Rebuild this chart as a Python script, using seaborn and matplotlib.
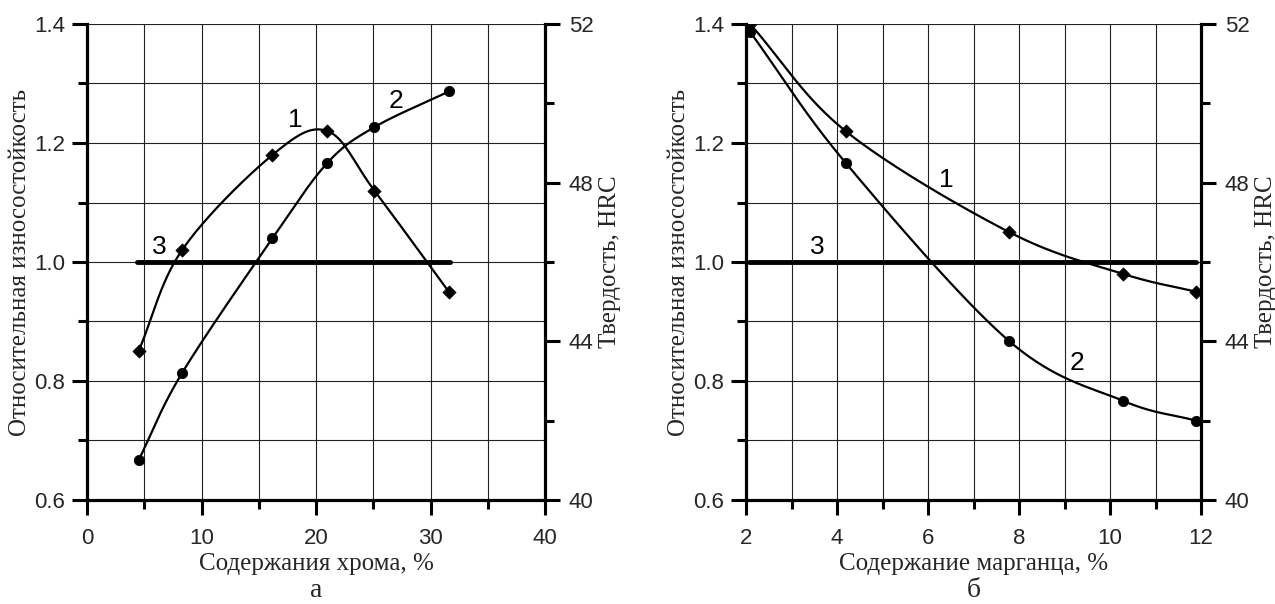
import numpy as np
import pandas as pd
import matplotlib
matplotlib.use("Agg")
import matplotlib.pyplot as plt
import seaborn as sns
from matplotlib.ticker import MultipleLocator

# ---------------- data ----------------
# panel a: chromium content
cr_x = [4.5, 8.3, 16.2, 21.0, 25.1, 31.6]
cr_wear = [0.85, 1.02, 1.18, 1.22, 1.12, 0.95]          # curve 1, relative wear resistance
cr_hrc = [41.0, 43.2, 46.6, 48.5, 49.4, 50.3]           # curve 2, hardness HRC
cr_ref_x = [4.4, 31.7]                                  # curve 3 (reference = 1.0)
cr_ref_y = [1.0, 1.0]

# panel б: manganese content
mn_x = [2.09, 4.19, 7.79, 10.29, 11.89]
mn_wear = [1.40, 1.22, 1.05, 0.98, 0.95]
mn_hrc = [51.8, 48.5, 44.0, 42.5, 42.0]
mn_ref_x = [2.07, 11.9]
mn_ref_y = [1.0, 1.0]

ylabel_left = "Относительная износостойкость"
ylabel_right = "Твердость, HRC"

SERIF = ["Liberation Serif", "DejaVu Serif"]
SANS = ["Liberation Sans Narrow", "Liberation Sans", "DejaVu Sans"]

sns.set_theme(style="white")
plt.rcParams["font.family"] = SANS


def smooth(x, y, xr, yr, n=40):
    """Catmull-Rom curve through the data points (normalised space)."""
    x = np.asarray(x, float); y = np.asarray(y, float)
    xs = (x - xr[0]) / (xr[1] - xr[0]); ys = (y - yr[0]) / (yr[1] - yr[0])
    P = np.column_stack([xs, ys])
    P = np.vstack([2 * P[0] - P[1], P, 2 * P[-1] - P[-2]])
    out = []
    for i in range(1, len(P) - 2):
        p0, p1, p2, p3 = P[i - 1], P[i], P[i + 1], P[i + 2]
        t = np.linspace(0, 1, n)[:, None]
        seg = 0.5 * ((2 * p1) + (-p0 + p2) * t + (2 * p0 - 5 * p1 + 4 * p2 - p3) * t ** 2
                     + (-p0 + 3 * p1 - 3 * p2 + p3) * t ** 3)
        out.append(seg if i == 1 else seg[1:])
    S = np.vstack(out)
    return S[:, 0] * (xr[1] - xr[0]) + xr[0], S[:, 1] * (yr[1] - yr[0]) + yr[0]


fig = plt.figure(figsize=(12.75, 6.04), dpi=100)
ax1 = fig.add_axes([87 / 1275, 1 - 500 / 604, (545 - 87) / 1275, 476 / 604])
ax2 = fig.add_axes([746 / 1275, 1 - 500 / 604, (1201 - 746) / 1275, 476 / 604])


def style_axes(ax, axr, xlim, xmaj, xmin, xlabel, sub):
    ax.set_xlim(*xlim)
    ax.set_ylim(0.6, 1.4)
    axr.set_ylim(40, 52)
    ax.xaxis.set_major_locator(MultipleLocator(xmaj))
    ax.xaxis.set_minor_locator(MultipleLocator(xmin))
    ax.yaxis.set_major_locator(MultipleLocator(0.2))
    ax.yaxis.set_minor_locator(MultipleLocator(0.1))
    axr.yaxis.set_major_locator(MultipleLocator(4))
    axr.yaxis.set_minor_locator(MultipleLocator(2))
    ax.set_yticklabels([f"{v:.1f}" for v in ax.get_yticks()])
    ax.grid(True, which="both", color="#222222", lw=0.8)
    ax.set_axisbelow(True)
    for a in (ax, axr):
        a.spines["top"].set_visible(False)
        for s in ("left", "bottom", "right"):
            a.spines[s].set_linewidth(2.3)
            a.spines[s].set_color("black")
    ax.spines["right"].set_visible(False)
    axr.spines["left"].set_visible(False)
    axr.spines["bottom"].set_visible(False)
    ax.tick_params(which="major", direction="out", length=11, width=2.2,
                   labelsize=16, color="black", left=True, bottom=True)
    ax.tick_params(axis="x", which="major", pad=9)
    ax.tick_params(axis="y", which="major", pad=5)
    ax.tick_params(which="minor", direction="out", length=6.5, width=2.2,
                   color="black", left=True, bottom=True)
    axr.tick_params(which="major", direction="out", length=11, width=2.2,
                    labelsize=16, color="black", pad=6, right=True)
    axr.tick_params(which="minor", direction="out", length=6.5, width=2.2,
                    color="black", right=True)
    ax.set_xlabel(xlabel, family=SERIF, fontsize=18, labelpad=3)
    ax.set_ylabel(ylabel_left, family=SERIF, fontsize=18, labelpad=2)
    axr.set_ylabel(ylabel_right, family=SERIF, fontsize=18, labelpad=4)
    ax.text(0.5, (500 - 597) / 476, sub, transform=ax.transAxes, ha="center",
            va="baseline", family=SERIF, fontsize=20)


def draw(ax, axr, x, wear, hrc, rx, ry, xlim):
    sx, sy = smooth(x, wear, xlim, (0.6, 1.4))
    ax.plot(sx, sy, color="black", lw=1.6, zorder=3)
    sns.scatterplot(x=x, y=wear, ax=ax, marker="D", s=45, color="black",
                    edgecolor="black", zorder=4, legend=False)
    hx, hy = smooth(x, hrc, xlim, (40, 52))
    axr.plot(hx, hy, color="black", lw=1.6, zorder=3)
    sns.scatterplot(x=x, y=hrc, ax=axr, marker="o", s=55, color="black",
                    edgecolor="black", zorder=4, legend=False)
    sns.lineplot(x=rx, y=ry, ax=ax, color="black", lw=3.5, zorder=3)


ax1r = ax1.twinx()
ax2r = ax2.twinx()
draw(ax1, ax1r, cr_x, cr_wear, cr_hrc, cr_ref_x, cr_ref_y, (0, 40))
draw(ax2, ax2r, mn_x, mn_wear, mn_hrc, mn_ref_x, mn_ref_y, (2, 12))
style_axes(ax1, ax1r, (0, 40), 10, 5, "Содержания хрома, %", "а")
style_axes(ax2, ax2r, (2, 12), 2, 1, "Содержание марганца, %", "б")

lab = dict(fontsize=19, ha="center", va="center", color="black")
ax1.text(18.2, 1.238, "1", **lab)
ax1.text(27.0, 1.27, "2", **lab)
ax1.text(6.3, 1.025, "3", **lab)
ax2.text(6.41, 1.137, "1", **lab)
ax2.text(9.27, 0.831, "2", **lab)
ax2.text(3.56, 1.025, "3", **lab)

fig.savefig("out.png", dpi=100, facecolor="white")
